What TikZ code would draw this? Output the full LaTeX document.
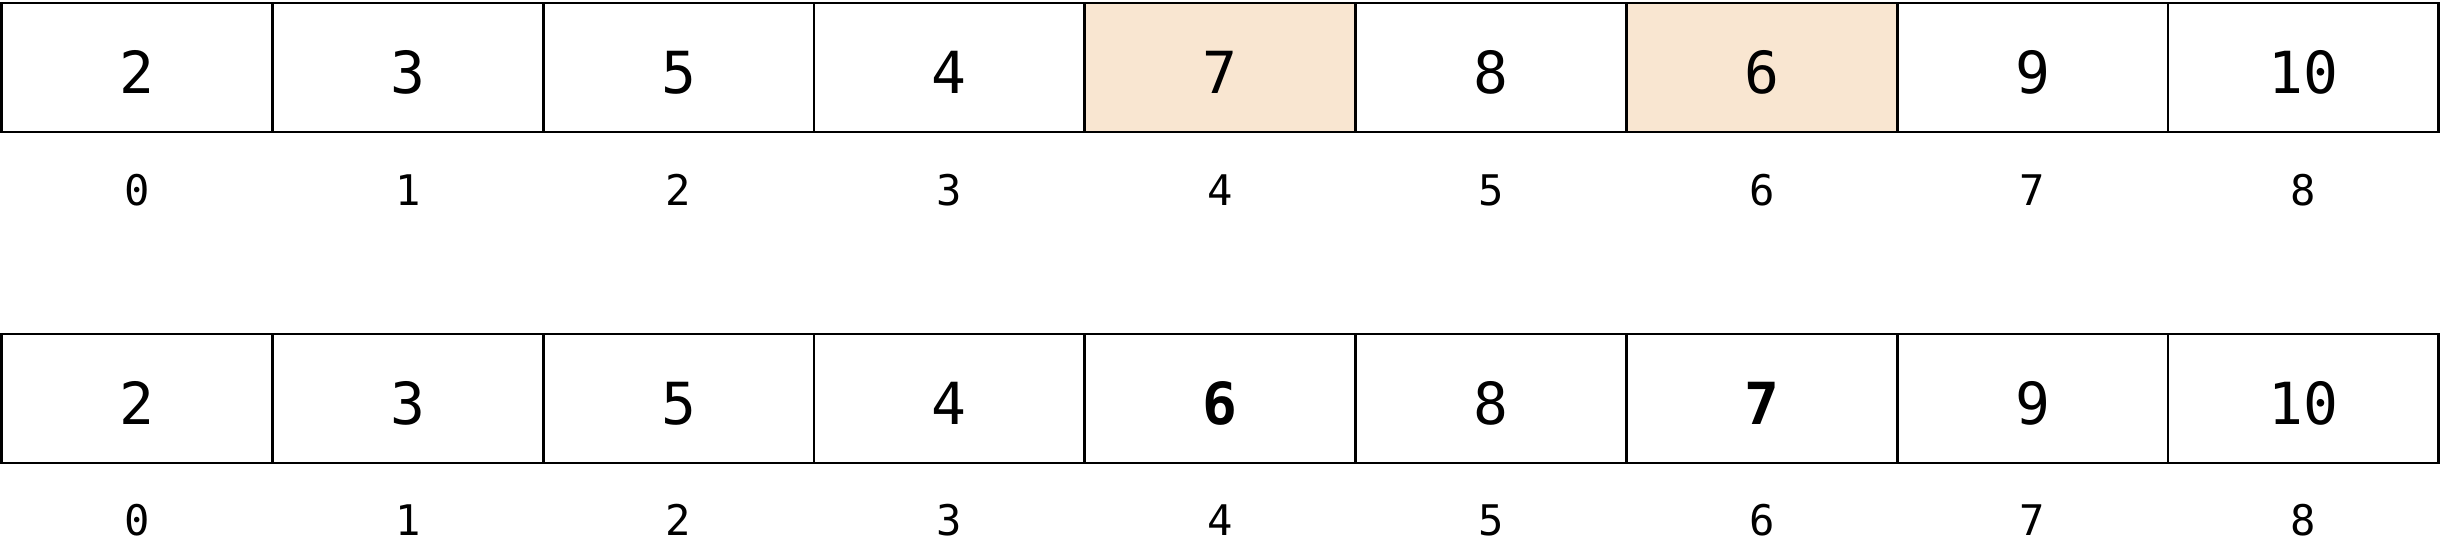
\documentclass[tikz,border=0pt]{standalone}
\usepackage{fontspec}
\setmonofont{DejaVu Sans Mono}
\definecolor{swapfill}{HTML}{F9E6D1}
\tikzset{
  cell/.style={draw, line width=0.8pt, minimum width=2.708cm, minimum height=1.29cm, inner sep=0pt,
    text height=0.51cm, text depth=0pt, font=\ttfamily\fontsize{16.5}{16.5}\selectfont},
  idx/.style={inner sep=0pt, font=\ttfamily\fontsize{12}{12}\selectfont},
  plain/.style={},
  picked/.style={fill=swapfill},
  moved/.style={font=\ttfamily\bfseries\fontsize{16.5}{16.5}\selectfont}
}

\begin{document}
\begin{tikzpicture}
		%%%%% START %%%%%
		\useasboundingbox (0, 0) rectangle (24.4, -5.42);
		
		% array before the swap
		\foreach \v/\k [count=\i from 0] in {2/plain, 3/plain, 5/plain, 4/plain, 7/picked, 8/plain, 6/picked, 9/plain, 10/plain}
		{
			\node[cell, \k] (a\i) at ({0.015 + 2.708*(\i + 0.5)}, -0.675) {\v};
			\node[idx] (ai\i) at ({0.015 + 2.708*(\i + 0.5)}, -1.90) {\i};
		}
		
		% array after the swap
		\foreach \v/\k [count=\i from 0] in {2/plain, 3/plain, 5/plain, 4/plain, 6/moved, 8/plain, 7/moved, 9/plain, 10/plain}
		{
			\node[cell, \k] (b\i) at ({0.015 + 2.708*(\i + 0.5)}, -3.985) {\v};
			\node[idx] (bi\i) at ({0.015 + 2.708*(\i + 0.5)}, -5.20) {\i};
		}
		
		%%%%% END %%%%%
	\end{tikzpicture}
\end{document}
